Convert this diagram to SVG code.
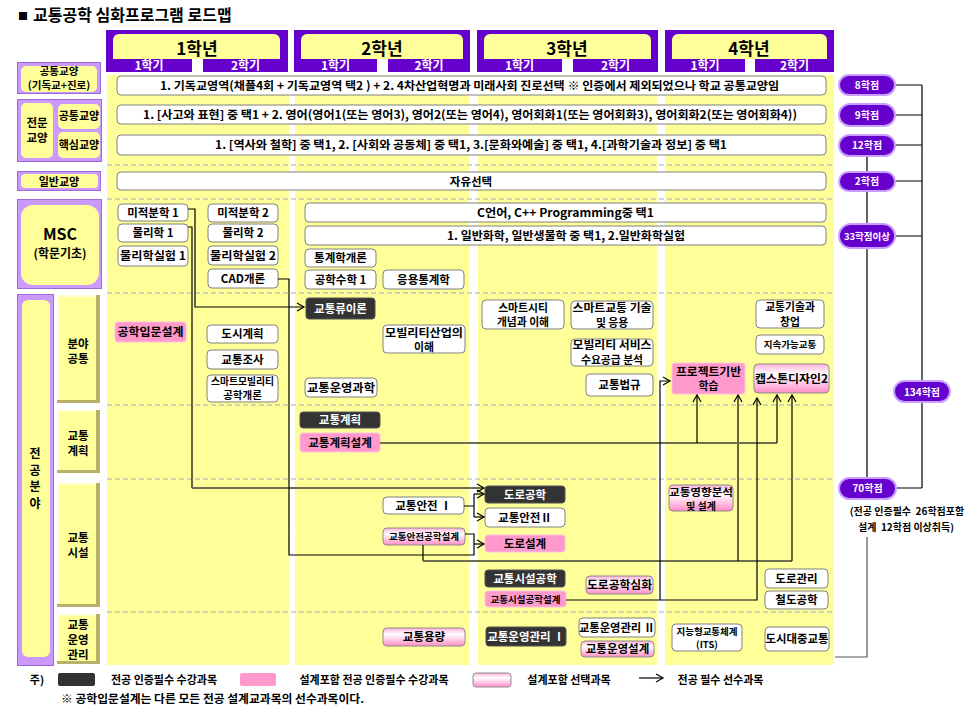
<svg xmlns="http://www.w3.org/2000/svg" width="978" height="714" viewBox="0 0 978 714">
<defs>
<style>
text{font-family:"Noto Sans CJK KR","Noto Sans",sans-serif;font-weight:bold;text-anchor:middle;fill:#000;font-size:11.5px}
.s10{font-size:10px}.s95{font-size:9.5px}.s105{font-size:10.5px}.s108{font-size:10.8px}.s11{font-size:11px}.s115{font-size:11.5px}.s12{font-size:12px}.s13{font-size:13px}
.wt{fill:#fff}
.wb{fill:#fff;stroke:#808080;stroke-width:1}
.db{fill:#333;stroke:#555;stroke-width:1}
.pb{fill:#ff99cc;stroke:#ffc0e0;stroke-width:1}
.gb{fill:url(#pg);stroke:#8c8c8c;stroke-width:1}
.col{fill:#ffff99}
.pur{fill:#6600cc}
.lav{fill:#cc99ff;stroke:#9a6ad8;stroke-width:1}
.yel{fill:#ffff99}
.dash{stroke:#a6a6c6;stroke-width:1;stroke-dasharray:5 3}
.cn{fill:none;stroke:#000;stroke-width:1.2}
.cg{fill:none;stroke:#6e6e52;stroke-width:1.8}
.pill{fill:#6600cc;stroke:#c9a0ff;stroke-width:2}
.bvd{fill:#b8b068}.bvl{fill:#ffffd0}
</style>
<linearGradient id="pg" x1="0" y1="0" x2="0" y2="1">
<stop offset="0" stop-color="#ffb0d8"/><stop offset="0.35" stop-color="#ffffff"/><stop offset="1" stop-color="#ff8cc6"/>
</linearGradient>
<marker id="ah" markerWidth="10" markerHeight="10" refX="8" refY="5" orient="auto" markerUnits="userSpaceOnUse">
<path d="M1,1 L8,5 L1,9" fill="none" stroke="#000" stroke-width="1.2"/>
</marker>
</defs>
<rect width="978" height="714" fill="#fff"/>

<g id="title">
<text x="18" y="20" style="text-anchor:start;font-size:10px">■</text>
<text x="33" y="21" style="text-anchor:start;font-size:16px">교통공학 심화프로그램 로드맵</text>
</g>

<g id="columns">
<rect class="col" x="107" y="75" width="182" height="590"/>
<rect class="col" x="295" y="75" width="174" height="590"/>
<rect class="col" x="478" y="75" width="179" height="590"/>
<rect class="col" x="665" y="75" width="169" height="590"/>
</g>

<g id="year1">
<rect class="pur" x="106" y="30" width="182" height="42"/>
<rect class="yel" x="113" y="34" width="167" height="30" rx="6"/>
<rect class="pur" x="106" y="59" width="86" height="13"/>
<rect class="pur" x="203" y="59" width="85" height="13"/>
<rect fill="#fff" x="192" y="59" width="11" height="13"/>
<text x="197" y="55" style="font-size:17px">1학년</text>
<text class="wt s12" x="149" y="70">1학기</text>
<text class="wt s12" x="245.5" y="70">2학기</text>
</g>
<g id="year2">
<rect class="pur" x="294" y="30" width="176" height="42"/>
<rect class="yel" x="301" y="34" width="162" height="30" rx="6"/>
<rect class="pur" x="294" y="59" width="83" height="13"/>
<rect class="pur" x="388" y="59" width="82" height="13"/>
<rect fill="#fff" x="377" y="59" width="11" height="13"/>
<text x="382" y="55" style="font-size:17px">2학년</text>
<text class="wt s12" x="335.5" y="70">1학기</text>
<text class="wt s12" x="429" y="70">2학기</text>
</g>
<g id="year3">
<rect class="pur" x="477" y="30" width="181" height="42"/>
<rect class="yel" x="484" y="34" width="167" height="30" rx="6"/>
<rect class="pur" x="477" y="59" width="85" height="13"/>
<rect class="pur" x="573" y="59" width="85" height="13"/>
<rect fill="#fff" x="562" y="59" width="11" height="13"/>
<text x="567" y="55" style="font-size:17px">3학년</text>
<text class="wt s12" x="519.5" y="70">1학기</text>
<text class="wt s12" x="615.5" y="70">2학기</text>
</g>
<g id="year4">
<rect class="pur" x="665" y="30" width="169" height="42"/>
<rect class="yel" x="672" y="34" width="155" height="30" rx="6"/>
<rect class="pur" x="665" y="59" width="80" height="13"/>
<rect class="pur" x="755" y="59" width="79" height="13"/>
<rect fill="#fff" x="745" y="59" width="10" height="13"/>
<text x="749" y="55" style="font-size:17px">4학년</text>
<text class="wt s12" x="705" y="70">1학기</text>
<text class="wt s12" x="794.5" y="70">2학기</text>
</g>

<g id="row-dividers">
<line class="dash" x1="107" y1="165" x2="834" y2="165"/>
<line class="dash" x1="107" y1="199" x2="834" y2="199"/>
<line class="dash" x1="107" y1="293" x2="834" y2="293"/>
<line class="dash" x1="107" y1="405" x2="834" y2="405"/>
<line class="dash" x1="107" y1="479" x2="834" y2="479"/>
<line class="dash" x1="107" y1="612" x2="834" y2="612"/>
</g>

<g id="label-common">
<rect class="lav" x="17.5" y="62.5" width="83" height="31"/>
<rect class="yel" x="21" y="66" width="76" height="26" rx="5"/>
<text class="s105"><tspan x="59" y="74.5">공통교양</tspan><tspan x="59" y="88.5">(기독교+진로)</tspan></text>
</g>
<g id="label-major-liberal">
<rect class="lav" x="17.5" y="99.5" width="84" height="62"/>
<rect class="yel" x="21" y="103" width="32" height="55" rx="5"/>
<rect class="yel" x="58" y="104" width="42" height="25" rx="5"/>
<rect class="yel" x="58" y="132" width="42" height="26" rx="5"/>
<text class="s115"><tspan x="37" y="127">전문</tspan><tspan x="37" y="142">교양</tspan></text>
<text class="s11" x="79" y="120">공통교양</text>
<text class="s11" x="79" y="149">핵심교양</text>
</g>
<g id="label-general">
<rect class="lav" x="17.5" y="171.5" width="83" height="19"/>
<rect class="yel" x="21" y="174" width="77" height="14" rx="4"/>
<text class="s11" x="59" y="185.5">일반교양</text>
</g>
<g id="label-msc">
<rect class="lav" x="17.5" y="199.5" width="84" height="89"/>
<rect class="yel" x="21" y="205" width="78" height="80" rx="12"/>
<text><tspan x="60" y="240" style="font-size:16px">MSC</tspan><tspan class="s12" x="60" y="258">(학문기초)</tspan></text>
</g>
<g id="label-major">
<rect class="lav" x="17.5" y="294.5" width="36" height="371"/>
<rect class="yel" x="22" y="300" width="28" height="357" rx="6"/>
<text class="s12"><tspan x="35" y="458">전</tspan><tspan x="35" y="474.5">공</tspan><tspan x="35" y="491">분</tspan><tspan x="35" y="507.5">야</tspan></text>
</g>
<g id="label-field-common">
<rect class="bvd" x="57" y="295" width="43" height="108"/>
<rect class="bvl" x="57" y="295" width="39" height="105"/>
<rect class="yel" x="59" y="297" width="37" height="103"/>
<text class="s115"><tspan x="78" y="348">분야</tspan><tspan x="78" y="363">공통</tspan></text>
</g>
<g id="label-planning">
<rect class="bvd" x="57" y="410" width="43" height="63"/>
<rect class="bvl" x="57" y="410" width="39" height="60"/>
<rect class="yel" x="59" y="412" width="37" height="58"/>
<text class="s115"><tspan x="78" y="440">교통</tspan><tspan x="78" y="455">계획</tspan></text>
</g>
<g id="label-facility">
<rect class="bvd" x="57" y="483" width="43" height="124"/>
<rect class="bvl" x="57" y="483" width="39" height="121"/>
<rect class="yel" x="59" y="485" width="37" height="119"/>
<text class="s115"><tspan x="78" y="542">교통</tspan><tspan x="78" y="557">시설</tspan></text>
</g>
<g id="label-operation">
<rect class="bvd" x="57" y="614" width="43" height="50"/>
<rect class="bvl" x="57" y="614" width="39" height="47"/>
<rect class="yel" x="59" y="616" width="37" height="45"/>
<text class="s115"><tspan x="78" y="628.5">교통</tspan><tspan x="78" y="643.5">운영</tspan><tspan x="78" y="658.5">관리</tspan></text>
</g>

<g id="row-common">
<rect class="wb" x="117" y="76" width="709" height="19" rx="4"/>
<text x="469.5" y="89.5" textLength="619" lengthAdjust="spacingAndGlyphs">1. 기독교영역(채플4회 + 기독교영역 택2 ) + 2. 4차산업혁명과 미래사회 진로선택  ※ 인증에서 제외되었으나 학교 공통교양임</text>
</g>
<g id="row-major-common">
<rect class="wb" x="117" y="105" width="709" height="19" rx="4"/>
<text x="470" y="118.5" textLength="654" lengthAdjust="spacingAndGlyphs">1. [사고와 표현] 중 택1 + 2. 영어(영어1(또는 영어3), 영어2(또는 영어4), 영어회화1(또는 영어회화3), 영어회화2(또는 영어회화4))</text>
</g>
<g id="row-core">
<rect class="wb" x="117" y="135" width="709" height="20" rx="4"/>
<text x="471" y="149" textLength="512" lengthAdjust="spacingAndGlyphs">1. [역사와 철학] 중 택1, 2. [사회와 공동체] 중 택1, 3.[문화와예술] 중 택1, 4.[과학기술과 정보] 중 택1</text>
</g>
<g id="row-general">
<rect class="wb" x="117" y="172" width="709" height="18" rx="4"/>
<text x="471" y="185.5">자유선택</text>
</g>

<g id="n-calc1"><rect class="wb" x="118" y="204" width="70" height="17" rx="4"/><text x="153" y="216.5">미적분학 1</text></g>
<g id="n-phys1"><rect class="wb" x="118" y="224" width="70" height="18" rx="4"/><text x="153" y="237">물리학 1</text></g>
<g id="n-physlab1"><rect class="wb" x="118" y="246" width="70" height="20" rx="4"/><text x="153" y="260" textLength="66" lengthAdjust="spacingAndGlyphs">물리학실험 1</text></g>
<g id="n-calc2"><rect class="wb" x="208" y="204" width="70" height="18" rx="4"/><text x="243" y="217">미적분학 2</text></g>
<g id="n-phys2"><rect class="wb" x="208" y="224" width="70" height="18" rx="4"/><text x="243" y="237">물리학 2</text></g>
<g id="n-physlab2"><rect class="wb" x="208" y="246" width="70" height="19" rx="4"/><text x="243" y="259.5" textLength="66" lengthAdjust="spacingAndGlyphs">물리학실험 2</text></g>
<g id="n-cad"><rect class="wb" x="208" y="269" width="70" height="19" rx="4"/><text x="243" y="282.5">CAD개론</text></g>
<g id="n-clang"><rect class="wb" x="305" y="203" width="521" height="19" rx="4"/><text x="565.5" y="216.5" textLength="177" lengthAdjust="spacingAndGlyphs">C언어, C++ Programming중  택1</text></g>
<g id="n-chem"><rect class="wb" x="305" y="226" width="521" height="19" rx="4"/><text x="566" y="239.5" textLength="238" lengthAdjust="spacingAndGlyphs">1. 일반화학, 일반생물학 중 택1, 2.일반화학실험</text></g>
<g id="n-stat"><rect class="wb" x="305" y="249" width="71" height="18" rx="4"/><text x="340.5" y="262">통계학개론</text></g>
<g id="n-engmath"><rect class="wb" x="305" y="270" width="71" height="19" rx="4"/><text x="340.5" y="283.5">공학수학 1</text></g>
<g id="n-appstat"><rect class="wb" x="383" y="270" width="81" height="19" rx="4"/><text x="423.5" y="283.5">응용통계학</text></g>

<g id="n-intro"><rect class="pb" x="115" y="322" width="71" height="20" rx="3"/><text x="150.5" y="336" textLength="66" lengthAdjust="spacingAndGlyphs">공학입문설계</text></g>
<g id="n-urban"><rect class="wb" x="207" y="325" width="71" height="18" rx="4"/><text x="242.5" y="338">도시계획</text></g>
<g id="n-survey"><rect class="wb" x="207" y="350" width="71" height="19" rx="4"/><text x="242.5" y="363.5">교통조사</text></g>
<g id="n-smartmob"><rect class="wb" x="207" y="375" width="71" height="27" rx="4"/><text><tspan x="242.5" y="384.5" class="s10" textLength="63" lengthAdjust="spacingAndGlyphs">스마트모빌리티</tspan><tspan x="242.5" y="398.5" class="s105">공학개론</tspan></text></g>
<g id="n-flow"><rect class="db" x="306" y="298" width="69" height="21" rx="3"/><text class="wt" x="340.5" y="312.5">교통류이론</text></g>
<g id="n-mobind"><rect class="wb" x="383" y="325" width="82" height="28" rx="4"/><text class="s108"><tspan x="424" y="336.5" textLength="78" lengthAdjust="spacingAndGlyphs">모빌리티산업의</tspan><tspan x="424" y="351">이해</tspan></text></g>
<g id="n-opsci"><rect class="wb" x="305" y="378" width="72" height="19" rx="4"/><text x="341" y="391.5" textLength="68" lengthAdjust="spacingAndGlyphs">교통운영과학</text></g>
<g id="n-smartcity"><rect class="wb" x="482" y="300" width="82" height="29" rx="4"/><text class="s108"><tspan x="523" y="311.5">스마트시티</tspan><tspan x="523" y="326">개념과 이해</tspan></text></g>
<g id="n-smarttr"><rect class="wb" x="571" y="301" width="82" height="28" rx="4"/><text class="s108"><tspan x="612" y="312" textLength="79" lengthAdjust="spacingAndGlyphs">스마트교통 기술</tspan><tspan x="612" y="326.5">및 응용</tspan></text></g>
<g id="n-mobserv"><rect class="wb" x="571" y="339" width="82" height="27" rx="4"/><text class="s108"><tspan x="612" y="349" textLength="79" lengthAdjust="spacingAndGlyphs">모빌리티 서비스</tspan><tspan x="612" y="363.5">수요공급 분석</tspan></text></g>
<g id="n-law"><rect class="wb" x="586" y="374" width="67" height="22" rx="4"/><text x="619.5" y="389">교통법규</text></g>
<g id="n-startup"><rect class="wb" x="756" y="300" width="68" height="28" rx="4"/><text class="s108"><tspan x="790" y="311">교통기술과</tspan><tspan x="790" y="325.5">창업</tspan></text></g>
<g id="n-sustain"><rect class="wb" x="756" y="335" width="68" height="19" rx="4"/><text class="s95" x="790" y="348">지속가능교통</text></g>
<g id="n-pbl"><rect class="pb" x="672" y="363" width="73" height="31" rx="3"/><text class="s108"><tspan x="708.5" y="375.5" textLength="65" lengthAdjust="spacingAndGlyphs">프로젝트기반</tspan><tspan x="708.5" y="390">학습</tspan></text></g>
<g id="n-capstone"><rect class="gb" x="754" y="364" width="75" height="29" rx="4"/><text x="791.5" y="383" textLength="73" lengthAdjust="spacingAndGlyphs">캡스톤디자인2</text></g>

<g id="n-tplan"><rect class="db" x="300" y="412" width="80" height="16" rx="3"/><text class="wt" x="340" y="424">교통계획</text></g>
<g id="n-tplandes"><rect class="pb" x="300" y="433" width="80" height="19" rx="3"/><text x="340" y="446.5">교통계획설계</text></g>

<g id="n-safety1"><rect class="wb" x="383" y="497" width="81" height="17" rx="4"/><text x="423.5" y="509.5">교통안전 Ⅰ</text></g>
<g id="n-safetydes"><rect class="gb" x="383" y="528" width="82" height="17" rx="4"/><text class="s95" x="424" y="540">교통안전공학설계</text></g>
<g id="n-road"><rect class="db" x="485" y="486" width="80" height="17" rx="3"/><text class="wt" x="525" y="498.5">도로공학</text></g>
<g id="n-safety2"><rect class="wb" x="485" y="508" width="80" height="19" rx="4"/><text x="525" y="521.5">교통안전Ⅱ</text></g>
<g id="n-roaddes"><rect class="pb" x="485" y="535" width="80" height="17" rx="3"/><text x="525" y="547.5">도로설계</text></g>
<g id="n-facil"><rect class="db" x="485" y="570" width="80" height="17" rx="3"/><text class="wt" x="525" y="582.5">교통시설공학</text></g>
<g id="n-facildes"><rect class="pb" x="485" y="591" width="81" height="16" rx="3"/><text class="s95" x="525.5" y="602.5">교통시설공학설계</text></g>
<g id="n-roadadv"><rect class="gb" x="586" y="576" width="67" height="18" rx="4"/><text x="619.5" y="589" textLength="65" lengthAdjust="spacingAndGlyphs">도로공학심화</text></g>
<g id="n-impact"><rect class="gb" x="669" y="485" width="64" height="26" rx="4"/><text class="s10"><tspan x="701" y="496" textLength="64" lengthAdjust="spacingAndGlyphs">교통영향분석</tspan><tspan x="701" y="509.5">및 설계</tspan></text></g>
<g id="n-roadmgmt"><rect class="wb" x="765" y="569" width="63" height="19" rx="4"/><text x="796.5" y="582.5">도로관리</text></g>
<g id="n-rail"><rect class="wb" x="765" y="591" width="63" height="18" rx="4"/><text x="796.5" y="604">철도공학</text></g>

<g id="n-capacity"><rect class="gb" x="383" y="628" width="82" height="18" rx="4"/><text x="424" y="641">교통용량</text></g>
<g id="n-ops1"><rect class="db" x="486" y="627" width="80" height="19" rx="3"/><text class="wt" x="526" y="640.5">교통운영관리 Ⅰ</text></g>
<g id="n-ops2"><rect class="wb" x="579" y="618" width="76" height="19" rx="4"/><text x="617" y="631.5" textLength="76" lengthAdjust="spacingAndGlyphs">교통운영관리 Ⅱ</text></g>
<g id="n-opsdes"><rect class="gb" x="581" y="641" width="73" height="16" rx="4"/><text x="617.5" y="653">교통운영설계</text></g>
<g id="n-its"><rect class="wb" x="672" y="624" width="70" height="27" rx="4"/><text class="s95"><tspan x="707" y="634.5">지능형교통체계</tspan><tspan x="707" y="647.5">(ITS)</tspan></text></g>
<g id="n-transit"><rect class="wb" x="765" y="627" width="64" height="24" rx="4"/><text x="797" y="643" textLength="63" lengthAdjust="spacingAndGlyphs">도시대중교통</text></g>

<g id="connectors">
<path class="cn" d="M188,209 H195 V307 H304" marker-end="url(#ah)"/>
<path class="cn" d="M188,227 H192 V488"/>
<path class="cg" d="M192,488 H484" marker-end="url(#ah)"/>
<path class="cn" d="M278,279 H289 V555 H474 V534 H465"/>
<path class="cn" d="M474,544 H484" marker-end="url(#ah)"/>
<path class="cn" d="M464,506 H474 M474,494 V517"/>
<path class="cn" d="M474,494 H484" marker-end="url(#ah)"/>
<path class="cn" d="M474,517 H484" marker-end="url(#ah)"/>
<path class="cn" d="M423,545 V561"/>
<path class="cg" d="M423,561 H792"/>
<path class="cn" d="M792,561 V395" marker-end="url(#ah)"/>
<path class="cn" d="M738,561 V395" marker-end="url(#ah)"/>
<path class="cg" d="M380,443 H777"/>
<path class="cn" d="M777,443 V395" marker-end="url(#ah)"/>
<path class="cn" d="M697,443 V395" marker-end="url(#ah)"/>
<path class="cn" d="M566,600 H757 V398" marker-end="url(#ah)"/>
<path class="cn" d="M660,600 V381 H670" marker-end="url(#ah)"/>
<path class="cn" d="M895,85 H922 M895,115 H922 M895,145 H922 M895,181 H922 M895,236 H922 M897,488 H922 M922,85 V488"/>
<path class="cn" d="M867,156 V172 M867,191 V224 M867,248 V478"/>
<path fill="none" stroke="#555" stroke-width="1.2" d="M867,537 V657 H835"/>
</g>

<g id="credit-8"><rect class="pill" x="839" y="75" width="56" height="20" rx="10"/><text class="wt s10" x="867" y="89">8학점</text></g>
<g id="credit-9"><rect class="pill" x="839" y="104" width="56" height="22" rx="11"/><text class="wt s10" x="867" y="119">9학점</text></g>
<g id="credit-12"><rect class="pill" x="839" y="135" width="56" height="21" rx="10.5"/><text class="wt s10" x="867" y="149">12학점</text></g>
<g id="credit-2"><rect class="pill" x="839" y="172" width="56" height="19" rx="9.5"/><text class="wt s10" x="867" y="185">2학점</text></g>
<g id="credit-33"><rect class="pill" x="839" y="224" width="56" height="24" rx="12"/><text class="wt s95" x="867" y="239.5">33학점이상</text></g>
<g id="credit-134"><rect class="pill" x="894" y="381" width="56" height="21" rx="10.5"/><text class="wt s10" x="922" y="395.5">134학점</text></g>
<g id="credit-70"><rect class="pill" x="839" y="478" width="57" height="21" rx="10.5"/><text class="wt s10" x="867.5" y="492">70학점</text></g>
<g id="credit-note">
<text class="s10"><tspan x="907" y="515">(전공 인증필수 &#160;26학점포함</tspan><tspan x="906" y="531">설계 &#160;12학점 이상취득)</tspan></text>
</g>

<g id="legend">
<text class="s11" x="37" y="684">주)</text>
<rect x="58" y="673" width="37" height="13" rx="2" fill="#333"/>
<text class="s11" x="164" y="684">전공 인증필수 수강과목</text>
<rect x="240" y="673" width="36" height="13" rx="2" fill="#ff99cc"/>
<text class="s11" x="374" y="684">설계포함 전공 인증필수 수강과목</text>
<rect class="gb" x="473" y="673" width="38" height="14" rx="3"/>
<text class="s11" x="569" y="684">설계포함 선택과목</text>
<path class="cn" d="M639,678 H663" marker-end="url(#ah)"/>
<text class="s11" x="720.5" y="684">전공 필수 선수과목</text>
<text class="s11" x="212.5" y="703" textLength="303" lengthAdjust="spacingAndGlyphs">※ 공학입문설계는 다른 모든 전공 설계교과목의 선수과목이다.</text>
</g>
</svg>
